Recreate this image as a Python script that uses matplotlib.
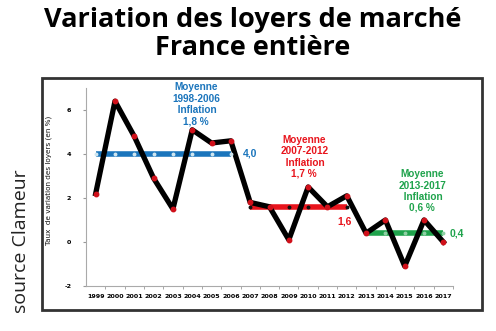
import matplotlib.pyplot as plt
from matplotlib.patches import Rectangle

# Data
years = list(range(1999, 2018))
variation = [2.2, 6.4, 4.8, 2.9, 1.5, 5.1, 4.5, 4.6, 1.8, 1.6,
             0.1, 2.5, 1.6, 2.1, 0.4, 1.0, -1.1, 1.0, 0.0]

# Period averages: (first year, last year, value, colour, label, text)
periods = [
    (1999, 2006, 4.0, '#1b75bc', '4,0', 'Moyenne\n1998-2006\n Inflation\n1,8 %'),
    (2007, 2012, 1.6, '#e8141c', '1,6', 'Moyenne\n2007-2012\n Inflation\n1,7 %'),
    (2013, 2017, 0.4, '#1fa34c', '0,4', 'Moyenne\n2013-2017\n Inflation\n0,6 %'),
]
dot_colors = ['#cfe6f0', '#111111', '#8fd0a4']
text_pos = [(2004.2, 7.25), (2009.8, 4.85), (2015.9, 3.3)]
value_pos = [(2006.6, 4.0), (2011.5, 0.95), (2017.3, 0.38)]

W, H = 496, 331
fig = plt.figure(figsize=(W / 100, H / 100), dpi=100)
fig.patch.set_facecolor('white')

# frame around the plot area
fig.patches.append(Rectangle((42 / W, 1 - 310 / H), 440 / W, 232 / H,
                             transform=fig.transFigure, fill=False,
                             edgecolor='#333333', linewidth=2))

fig.text(0.51, 1 - 20 / H, 'Variation des loyers de marché', ha='center', va='center',
         fontsize=19.5, fontweight='bold', family='Open Sans')
fig.text(0.51, 1 - 48 / H, 'France entière', ha='center', va='center',
         fontsize=19.5, fontweight='bold', family='Open Sans')
fig.text(21 / W, 1 - 241 / H, 'source Clameur', rotation=90, ha='center', va='center',
         fontsize=14, family='Open Sans', color='#222222')

ax = fig.add_axes([86 / W, 1 - 286 / H, 367 / W, 198 / H])

for (y0, y1, val, col, lab, txt), dc in zip(periods, dot_colors):
    xs = [y for y in years if y0 <= y <= y1]
    ax.plot(xs, [val] * len(xs), color=col, linewidth=4, solid_capstyle='butt', zorder=2)
    ax.plot(xs, [val] * len(xs), linestyle='none', marker='o', markersize=1.8,
            color=dc, zorder=4)

ax.plot(years, variation, color='black', linewidth=3.8, zorder=3)
ax.plot(years, variation, linestyle='none', marker='o', markersize=3.2,
        color='#d0101a', zorder=5)

for (y0, y1, val, col, lab, txt), (tx, ty), (vx, vy) in zip(periods, text_pos, value_pos):
    ax.text(tx, ty, txt, color=col, ha='center', va='top', fontsize=7.2,
            fontweight='bold', family='Liberation Sans', linespacing=1.15)
    ax.text(vx, vy, lab, color=col, ha='left', va='center', fontsize=7.5,
            fontweight='bold', family='Liberation Sans')

ax.set_xlim(1998.5, 2017.5)
ax.set_ylim(-2, 7)
ax.set_xticks(years)
ax.set_xticklabels([str(y) for y in years], fontsize=4.6, fontweight='bold')
ax.set_xticks([y + 0.5 for y in years], minor=True)
ax.tick_params(axis='x', which='major', length=0, pad=6)
ax.tick_params(axis='x', which='minor', length=2.5, color='#999999')
ax.set_yticks([-2, 0, 2, 4, 6])
ax.set_yticklabels(['-2', '0', '2', '4', '6'], fontsize=4.6, fontweight='bold')
ax.tick_params(axis='y', length=2.5, color='#999999', pad=8)
for s in ['top', 'right']:
    ax.spines[s].set_visible(False)
for s in ['left', 'bottom']:
    ax.spines[s].set_color('#aaaaaa')
    ax.spines[s].set_linewidth(0.8)
ax.set_facecolor('none')

fig.text(49 / W, 1 - 180 / H, 'Taux  de variation des loyers (en %)', rotation=90,
         ha='center', va='center', fontsize=5.2, color='#111111')

fig.savefig('out.png', dpi=100)
